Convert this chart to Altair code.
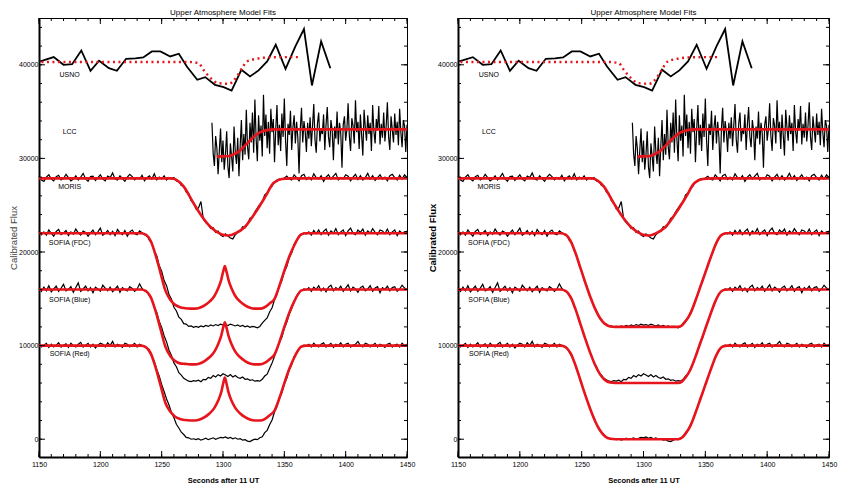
import altair as alt
import pandas as pd

FONT = "Liberation Sans, Arial, sans-serif"

# ---------------- observed light curves (2 s cadence, 1150..1450) ----------------
T = list(range(1150, 1451, 2))

moris = [
    28100, 27700, 27550, 28000, 28250, 27800, 27600, 28050, 28200, 27700,
    27850, 28300, 27950, 27600, 27800, 28150, 27700, 28000, 28400, 27800,
    27550, 28050, 28100, 27650, 27950, 28250, 27800, 27600, 28100, 27950,
    28450, 27800, 27700, 28150, 27850, 27550, 28000, 28300, 28050, 27700,
    27950, 27800, 28200, 27600, 27950, 28150, 27800, 28350, 27700, 28000,
    27800, 28150, 27700, 27950,
    27800, 27950, 27600, 27550, 27100, 27050, 26400, 26250, 25500, 25300,
    24600, 24700, 25400, 23500, 23150, 22900, 22500, 22600, 22100, 22250,
    21800, 21650, 21950, 21700, 21500, 21400, 21850, 22100, 22250, 22700,
    22600, 23000, 23600, 23700, 24300, 24700, 25100, 25350, 26100, 26300,
    26800, 27050, 27500, 27550, 27800, 27750, 27900,
    28100, 27800, 27700, 28250, 27950, 27600, 28150, 28300, 27750, 28000,
    27700, 28350, 27950, 27800, 28150, 27550, 28000, 28250, 27800, 28100,
    28400, 27700, 27950, 27800, 28250, 28100, 27600, 28000, 28300, 27750,
    28150, 27700, 27950, 28400, 27800, 28150, 27650, 27950, 28250, 27800,
    28000, 27600, 28150, 28300, 27950, 27700, 28200, 27800, 28250, 27950,
]

sofia_fdc = [
    22250, 21850, 22150, 21800, 22350, 22000, 21700, 22200, 22400, 21850,
    22050, 22300, 21750, 22150, 21900, 22450, 22050, 21800, 22250, 22100,
    21700, 22050, 22350, 21850, 22150, 22550, 21800, 22000, 22300, 21850,
    22200, 21750, 22400, 22050, 21850, 22300, 21700, 22150, 22350, 21950,
    21850, 22250,
    22050, 21850, 21800, 21250, 20950, 20100, 19600, 18550, 17950, 16950,
    16400, 15450, 14950, 14100, 13700, 13050, 12800, 12350, 12300, 12050,
    12100, 11950,
    12050, 11950, 12100, 12000, 12150, 12050, 12200, 12100, 12250, 12150,
    12300, 12200, 12250, 12150, 12300, 12200, 12100, 12200, 12050, 12150,
    12000, 12100, 11950, 12050, 12000, 11900,
    12050, 12400, 12700, 12950, 13600, 14050, 14900, 15450, 16400, 16950,
    17900, 18450, 19400, 19900, 20800, 21200, 21750, 21850, 22050, 21950,
    22150, 21800, 22300, 21950, 22350, 21850, 22200, 22450, 21800, 22250,
    22000, 22500, 21850, 22150, 22350, 21750, 22250, 22550, 22000, 21850,
    22350, 22100, 22450, 21800, 22250, 22000, 22500, 22100, 21850, 22350,
    22250, 21950, 22450, 21850, 22150, 22350, 21750, 22250, 22000, 22150,
    22200,
]

sofia_blue = [
    16200, 15800, 16250, 15850, 16400, 15750, 16050, 16350, 15800, 16150,
    16550, 15850, 16000, 16300, 15700, 16200, 16700, 15800, 16050, 16350,
    15850, 16200, 15650, 16250, 16050, 15800, 16450, 16150, 15850, 16250,
    15750, 16050, 16350, 15700, 16200, 16000, 15850, 16300, 16100, 15800,
    16050, 16600,
    16100, 15850, 15750, 15300, 14900, 14150, 13550, 12600, 11950, 11050,
    10400, 9500, 8950, 8150, 7750, 7100, 6850, 6500, 6350, 6200,
    6150, 6250,
    6200, 6300, 6150, 6400, 6350, 6600, 6500, 6800, 6650, 6900,
    6750, 7000, 6850, 6700, 6900, 6650, 6800, 6600, 6500, 6650,
    6400, 6450, 6300, 6350, 6200, 6250,
    6200, 6400, 6750, 6950, 7550, 8150, 8850, 9600, 10350, 10900,
    11850, 12500, 13350, 13950, 14750, 15300, 15700, 15900, 16050, 15950,
    16200, 15800, 16250, 16000, 16400, 15850, 16150, 15750, 16250, 16450,
    15850, 16200, 16000, 16350, 15800, 16150, 16500, 15850, 16250, 16050,
    15700, 16200, 16350, 15850, 16050, 16400, 15800, 16150, 16300, 15650,
    16200, 16000, 16350, 15850, 16200, 16300, 15800, 16050, 16450, 16150,
    16000,
]

sofia_red = [
    10150, 9850, 10050, 10250, 9800, 10150, 9850, 10050, 10300, 9850,
    10050, 10200, 9800, 10250, 10000, 9850, 10150, 10350, 9850, 10050,
    10250, 9850, 10150, 9750, 10050, 10250, 10150, 9850, 10300, 10000,
    10450, 9850, 10150, 10000, 9800, 10250, 10150, 9850, 10050, 10250,
    9850, 10150,
    10000, 9950, 9750, 9300, 8850, 8300, 7450, 6750, 5850, 5100,
    4300, 3650, 2850, 2300, 1600, 1200, 750, 500, 200, 150,
    0, 50,
    -50, 50, -100, 0, 100, -50, 50, 150, 0, 100,
    200, 150, 250, 100, 200, 50, 150, 0, 50, -100,
    -50, -200, -250, -100, 0, -50,
    150, 250, 700, 950, 1550, 2050, 2900, 3500, 4400, 4950,
    5900, 6500, 7400, 7950, 8800, 9200, 9700, 9850, 10050, 9950,
    10150, 9850, 10250, 10000, 9850, 10150, 10300, 9850, 10050, 10250,
    9800, 10150, 10000, 10300, 9850, 10150, 10250, 9850, 10050, 10150,
    10450, 10000, 9850, 10250, 10150, 9850, 10050, 10250, 9850, 10150,
    10000, 9800, 10150, 10250, 9850, 10050, 10150, 9850, 10250, 10000,
    10150,
]

# LCC: 1 s cadence, 1291..1450
lcc_t = list(range(1291, 1451))
lcc = [
    33800, 30500, 29200, 32400, 31100, 28300, 30800, 33200, 29600, 31900,
    28800, 30400, 32900, 29100, 27900, 31600, 30200, 28600, 33400, 30700,
    29400, 32200, 28100, 31300, 34100, 29800, 32600, 30400, 35200, 31200,
    29900, 33800, 31700, 34900, 30600, 36300, 32100, 29700, 34600, 31900,
    33500, 30200, 36800, 32400, 34700, 31100, 33900, 30500, 35300, 32800,
    34200, 29600, 33100, 35700, 31400, 33600, 30800, 34800, 32300, 36400,
    31900, 29200, 33700, 32500, 35100, 30900, 33300, 34600, 31600, 33900,
    32200, 28400, 33100, 35400, 31700, 34000, 32900, 30700, 33800, 32100,
    34400, 31300, 33500, 35800, 32000, 30600, 33700, 34900, 31800, 33200,
    32600, 34700, 30900, 33600, 35500, 32300, 31200, 34100, 33000, 29800,
    33400, 32100, 35000, 31500, 33800, 32700, 29000, 33600, 34500, 31900,
    33100, 35900, 32400, 30800, 34300, 33500, 31600, 36200, 32800, 33900,
    31000, 34700, 32500, 30300, 35200, 33300, 31900, 34600, 32600, 33800,
    30800, 35700, 32900, 31600, 34200, 33000, 35600, 31500, 33700, 32200,
    34900, 31800, 33400, 36000, 32300, 30900, 34500, 33100, 31700, 34800,
    32500, 33900, 31400, 35300, 32800, 31200, 34100, 33500, 30700, 33600,
]

usno_t = [1151, 1162, 1170, 1177, 1184.5, 1192, 1199, 1207, 1213.5, 1221,
          1228.5, 1235, 1242, 1249, 1257, 1264, 1270.5, 1279, 1285.5, 1293.5,
          1300.5, 1307, 1315, 1322, 1329, 1336, 1343, 1351, 1359, 1366,
          1372.5, 1380, 1387.5]
usno = [40360, 40820, 40000, 40070, 41530, 39360, 40430, 39640, 39360, 40640,
        40680, 40790, 41430, 41430, 40890, 41180, 39820, 38400, 38680, 37860,
        37610, 37250, 39470, 38750, 39400, 40360, 42140, 39570, 41960, 43820,
        37790, 42500, 39640]

# ---------------- model curves ----------------
usno_model_t = [1152, 1180, 1210, 1240, 1265, 1272, 1280, 1284, 1290, 1296,
                1304.6, 1311, 1315.5, 1319.6, 1326, 1337, 1350, 1362]
usno_model = [40300, 40300, 40300, 40300, 40300, 40300, 40180, 39470, 38570, 38040,
              37970, 38680, 39640, 40360, 40610, 40790, 40820, 40820]

lcc_model_t = [1295, 1300, 1305, 1309, 1313, 1317, 1321, 1325, 1329, 1333, 1337, 1341, 1350, 1450]
lcc_model = [30190, 30220, 30260, 30450, 30750, 31250, 31800, 32300, 32690, 32920, 33050, 33100, 33100, 33100]

moris_model_t = [1150, 1256, 1258.4, 1262, 1268, 1276, 1283, 1291, 1299, 1304.6,
                 1310, 1318, 1326, 1334.5, 1341, 1348, 1355, 1450]
moris_model = [27870, 27870, 27870, 27700, 26980, 25200, 23770, 22530, 21880, 21770,
               21990, 22700, 24130, 25910, 27350, 27800, 27870, 27870]

# left panel: models with a central flash
left_t = [1150, 1233, 1237, 1241, 1245, 1249, 1253, 1257, 1261, 1265,
          1269, 1273, 1277, 1281, 1285, 1289, 1293, 1296, 1298.5, 1300.5,
          1301.5, 1302.5, 1304.5, 1307, 1310, 1314, 1318, 1322, 1326, 1330,
          1334, 1338, 1342, 1346, 1350, 1354, 1358, 1361, 1364, 1368, 1450]
left_fdc = [22000, 22000, 21850, 21200, 19700, 17800, 15900, 14900, 14350, 14100,
            14000, 13950, 13950, 14050, 14300, 14700, 15300, 16100, 17000, 18100,
            18500, 18100, 17000, 16100, 15300, 14700, 14300, 14050, 13950, 13950,
            14100, 14500, 15000, 16400, 18000, 19500, 20700, 21450, 21900, 22000, 22000]
left_blue = [16000, 16000, 15850, 15200, 13700, 11800, 9900, 8900, 8350, 8100,
             8050, 8000, 8000, 8100, 8350, 8750, 9350, 10150, 11050, 12100,
             12500, 12100, 11050, 10150, 9350, 8750, 8350, 8100, 8000, 8000,
             8150, 8550, 9050, 10400, 12000, 13500, 14700, 15450, 15900, 16000, 16000]
left_red = [10000, 10000, 9850, 9200, 7700, 5800, 3900, 2950, 2400, 2150,
            2050, 2000, 2000, 2100, 2350, 2750, 3350, 4100, 5000, 6150,
            6600, 6150, 5000, 4100, 3350, 2750, 2350, 2100, 2000, 2000,
            2150, 2550, 3050, 4400, 6000, 7500, 8700, 9450, 9900, 10000, 10000]

# right panel: well-fitting models
right_t = [1150, 1233, 1237, 1241, 1245, 1249, 1253, 1257, 1261, 1265, 1269, 1273, 1277,
           1328, 1331, 1334, 1338, 1342, 1346, 1350, 1354, 1358, 1361, 1364, 1368, 1450]
right_fdc = [22000, 22000, 21850, 21200, 19900, 18300, 16700, 15200, 13900, 12900, 12300, 12050, 12000,
             12000, 12150, 12600, 13450, 14800, 16300, 17800, 19300, 20700, 21500, 21900, 22000, 22000]
right_blue = [16000, 16000, 15850, 15200, 13900, 12300, 10700, 9200, 7900, 6900, 6300, 6050, 6000,
              6000, 6150, 6600, 7450, 8800, 10300, 11800, 13300, 14700, 15500, 15900, 16000, 16000]
right_red = [10000, 10000, 9850, 9200, 7900, 6300, 4700, 3200, 1900, 900, 300, 50, 0,
             0, 150, 600, 1450, 2800, 4300, 5800, 7300, 8700, 9500, 9900, 10000, 10000]

label_names = ["USNO", "LCC", "MORIS", "SOFIA (FDC)", "SOFIA (Blue)", "SOFIA (Red)"]
label_v = [38930, 32830, 26950, 20960, 14860, 9140]
label_t = [1175] * 6

x_ticks = list(range(1150, 1451, 10))
x_major = list(range(1150, 1451, 50))
y_ticks = list(range(0, 44001, 2000))
y_major = [0, 10000, 20000, 30000, 40000]

for arr in (moris, sofia_fdc, sofia_blue, sofia_red):
    assert len(arr) == len(T), len(arr)
assert len(lcc) == len(lcc_t), len(lcc)
assert len(usno) == len(usno_t)
assert len(left_t) == len(left_fdc) == len(left_blue) == len(left_red)
assert len(right_t) == len(right_fdc) == len(right_blue) == len(right_red)


def df(series, t, v):
    return pd.DataFrame({"series": series, "t": t, "v": v})


obs = pd.concat([
    df("MORIS", T, moris), df("FDC", T, sofia_fdc),
    df("Blue", T, sofia_blue), df("Red", T, sofia_red),
    df("LCC", lcc_t, lcc),
])
usno_df = df("USNO", usno_t, usno)
usno_model_df = df("USNO", usno_model_t, usno_model)
common_models = pd.concat([df("LCC", lcc_model_t, lcc_model), df("MORIS", moris_model_t, moris_model)])

W_L, W_R, H = 368, 371, 439

xscale = alt.Scale(domain=[1150, 1450], nice=False, zero=False)
yscale = alt.Scale(domain=[-1900, 45000], nice=False, zero=False)


def panel(models, W, title_weight, title_color):
    xaxis = alt.Axis(values=x_major, format="d", title="Seconds after 11 UT",
                     labelPadding=3, titlePadding=9, labelFlush=False)
    yaxis = alt.Axis(values=y_major, format="d", title="Calibrated Flux",
                     labelPadding=1, titlePadding=0, titleFontWeight=title_weight,
                     titleColor=title_color, titleFontSize=9.5)
    X = alt.X("t:Q", scale=xscale, axis=xaxis)
    Y = alt.Y("v:Q", scale=yscale, axis=yaxis)

    black = alt.Chart(obs).mark_line(color="black", strokeWidth=1.2).encode(
        x=X, y=Y, detail="series:N", order="t:Q")
    usno_line = alt.Chart(usno_df).mark_line(color="black", strokeWidth=1.8).encode(x=X, y=Y)
    usno_fit = alt.Chart(usno_model_df).mark_line(
        color="#e8141c", strokeWidth=2.4, strokeDash=[2, 3.5], interpolate="monotone").encode(x=X, y=Y)
    red = alt.Chart(pd.concat([common_models, models])).mark_line(
        color="#e8141c", strokeWidth=2.6, interpolate="monotone").encode(
        x=X, y=Y, detail="series:N", order="t:Q")
    labels = alt.Chart(df(label_names, label_t, label_v)).mark_text(
        font=FONT, fontSize=7, color="black", align="center", baseline="middle").encode(
        x=X, y=Y, text="series:N")

    xt = pd.DataFrame({"t": x_ticks})
    xm = pd.DataFrame({"t": x_major})
    yt = pd.DataFrame({"v": y_ticks})
    ym = pd.DataFrame({"v": y_major})
    tick_layers = [
        alt.Chart(xt).mark_rule(color="black", strokeWidth=1).encode(x=X, y=alt.value(H), y2=alt.value(H - 3)),
        alt.Chart(xm).mark_rule(color="black", strokeWidth=1).encode(x=X, y=alt.value(H), y2=alt.value(H - 6)),
        alt.Chart(xt).mark_rule(color="black", strokeWidth=1).encode(x=X, y=alt.value(0), y2=alt.value(3)),
        alt.Chart(xm).mark_rule(color="black", strokeWidth=1).encode(x=X, y=alt.value(0), y2=alt.value(6)),
        alt.Chart(yt).mark_rule(color="black", strokeWidth=1).encode(y=Y, x=alt.value(0), x2=alt.value(3)),
        alt.Chart(ym).mark_rule(color="black", strokeWidth=1).encode(y=Y, x=alt.value(0), x2=alt.value(6)),
        alt.Chart(yt).mark_rule(color="black", strokeWidth=1).encode(y=Y, x=alt.value(W), x2=alt.value(W - 3)),
        alt.Chart(ym).mark_rule(color="black", strokeWidth=1).encode(y=Y, x=alt.value(W), x2=alt.value(W - 6)),
    ]
    return alt.layer(black, usno_line, red, usno_fit, labels, *tick_layers).properties(
        width=W, height=H, title="Upper Atmosphere Model Fits")


left_models = pd.concat([df("FDC", left_t, left_fdc), df("Blue", left_t, left_blue), df("Red", left_t, left_red)])
right_models = pd.concat([df("FDC", right_t, right_fdc), df("Blue", right_t, right_blue), df("Red", right_t, right_red)])

chart = alt.hconcat(
    panel(left_models, W_L, "normal", "#444444"),
    panel(right_models, W_R, "bold", "black"),
    spacing=11,
).properties(
    padding={"left": 0, "top": 0, "right": 0, "bottom": 0}
).configure_view(
    stroke="black", strokeWidth=1
).configure_axis(
    labelFont=FONT, titleFont=FONT, labelFontSize=7, titleFontSize=7.5,
    labelColor="black", titleColor="black", domainColor="black", domainWidth=2,
    ticks=False, grid=False
).configure_title(
    font=FONT, fontSize=8, fontWeight="normal", anchor="middle", offset=1, color="black"
)

chart.save("out.html", embed_options={"renderer": "svg", "actions": False})
